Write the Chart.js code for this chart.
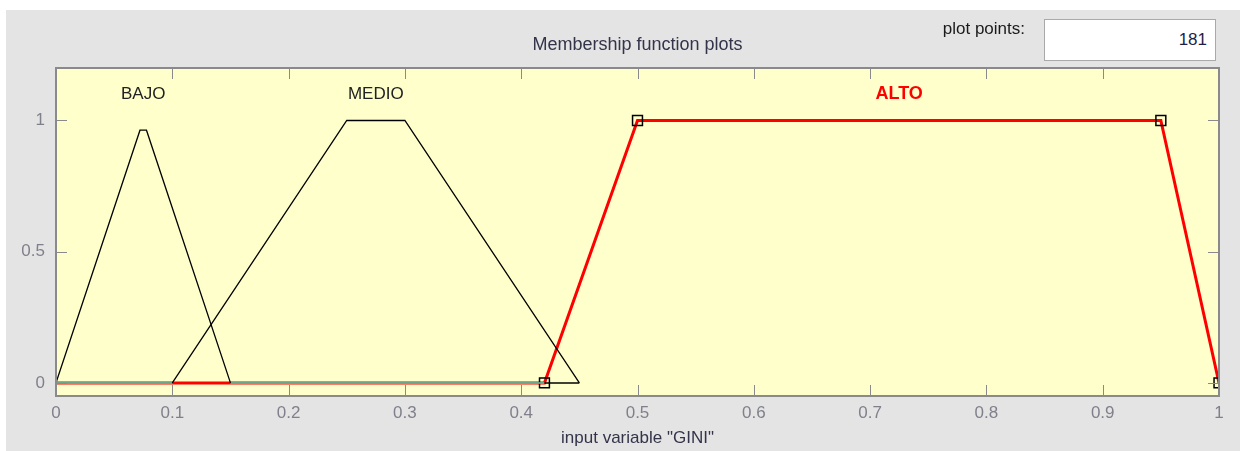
<!DOCTYPE html>
<html>
<head>
<meta charset="utf-8">
<script src="https://cdn.jsdelivr.net/npm/chart.js@4/dist/chart.umd.min.js"></script>
<style>
  html, body { margin: 0; padding: 0; background: #ffffff; }
  #panel { position: absolute; left: 6px; top: 10px; width: 1234px; height: 441px; background: #e4e4e4; }
  #myChart { position: absolute; left: 0; top: 0; }
  #ppLabel { position: absolute; right: 215px; top: 9px; font: 17px "Liberation Sans", Arial, sans-serif; color: #1a1a1a; }
  #ppBox { position: absolute; left: 1038px; top: 9px; width: 162px; height: 40px; background: #fff;
           border: 1px solid #a9a9a9; font: 17px "Liberation Sans", Arial, sans-serif; color: #1e1e4a;
           text-align: right; line-height: 40px; padding-right: 8px; }
</style>
</head>
<body>
<div id="panel">
  <canvas id="myChart" width="1234" height="441"></canvas>
  <div id="ppLabel">plot points:</div>
  <div id="ppBox">181</div>
</div>
<script>
// membership functions of input variable "GINI"
var mfNames = ['BAJO', 'MEDIO', 'ALTO'];
var bajoParams = [0, 0.075, 0.15];
var medioParams = [0.1, 0.25, 0.3, 0.45];
var altoParams = [0.42, 0.5, 0.95, 1];

// plotted curves (181 plot points, so BAJO's peak is clipped)
var bajoX = [0, 0.0722, 0.0778, 0.15];
var bajoY = [0, 0.963, 0.963, 0];
var medioX = [0.1, 0.25, 0.3, 0.45];
var medioY = [0, 1, 1, 0];
var altoX = [0, 0.42, 0.5, 0.95, 1];
var altoY = [0, 0, 1, 1, 0];
// zero stretch where the other curves overlap on the axis
var zeroX = [0, 0.1, 0.15, 0.42, 0.45];
var zeroY = [0, 0, 0, 0, 0];

var xTicks = [0, 0.1, 0.2, 0.3, 0.4, 0.5, 0.6, 0.7, 0.8, 0.9, 1];
var yTicks = [0, 0.5, 1];

function pts(xs, ys) {
    return xs.map(function (x, i) { return { x: x, y: ys[i] }; });
}

// name sits over the top of each mf
function mfCenter(p) {
    return p.length === 3 ? p[1] : (p[1] + p[2]) / 2;
}

var font = '"Liberation Sans", Arial, sans-serif';
var zeroColors = ['#3fdcb8', 'rgba(0,0,0,0)', '#3fdcb8', '#000000'];

// yellow plot background, box, inward ticks, title and mf names
var axesBox = {
    id: 'axesBox',
    beforeDatasetsDraw: function (chart) {
        var c = chart.ctx, a = chart.chartArea;
        c.save();
        c.fillStyle = '#ffffcb';
        c.fillRect(a.left, a.top, a.right - a.left, a.bottom - a.top);
        c.restore();
    },
    afterDatasetsDraw: function (chart) {
        var c = chart.ctx, a = chart.chartArea;
        var xs = chart.scales.x, ys = chart.scales.y;
        c.save();
        c.strokeStyle = '#8a8a8a';
        c.lineWidth = 1;
        c.beginPath();
        xTicks.forEach(function (v) {
            var px = Math.round(xs.getPixelForValue(v)) + 0.5;
            c.moveTo(px, a.bottom); c.lineTo(px, a.bottom - 11);
            c.moveTo(px, a.top); c.lineTo(px, a.top + 11);
        });
        yTicks.forEach(function (v) {
            var py = Math.round(ys.getPixelForValue(v)) + 0.5;
            c.moveTo(a.left, py); c.lineTo(a.left + 11, py);
            c.moveTo(a.right, py); c.lineTo(a.right - 11, py);
        });
        c.stroke();
        c.lineWidth = 2;
        c.strokeRect(a.left, a.top, a.right - a.left, a.bottom - a.top);

        c.textAlign = 'center';
        c.textBaseline = 'middle';
        c.fillStyle = '#33334a';
        c.font = '18px ' + font;
        c.fillText('Membership function plots', (a.left + a.right) / 2, 35);

        [bajoParams, medioParams, altoParams].forEach(function (p, i) {
            var cx = xs.getPixelForValue(mfCenter(p));
            var cy = ys.getPixelForValue(1.1);
            c.fillStyle = i === 2 ? '#ff0000' : '#222222';
            c.font = (i === 2 ? 'bold 18px ' : '17px ') + font;
            c.fillText(mfNames[i], cx, cy);
        });
        c.restore();
    }
};

var ctx = document.getElementById('myChart').getContext('2d');
var chart = new Chart(ctx, {
    type: 'line',
    data: {
        datasets: [{
            label: 'ALTO',
            data: pts(altoX, altoY),
            borderColor: '#ff0000',
            borderWidth: 3,
            pointStyle: 'rect',
            pointRadius: [0, 7, 7, 7, 7],
            pointBorderColor: '#000000',
            pointBorderWidth: 1.5,
            pointBackgroundColor: 'rgba(0,0,0,0)',
            order: 3
        }, {
            label: 'zero',
            data: pts(zeroX, zeroY),
            borderWidth: 1.5,
            pointRadius: 0,
            segment: { borderColor: function (s) { return zeroColors[s.p0DataIndex]; } },
            order: 2
        }, {
            label: 'BAJO',
            data: pts(bajoX, bajoY),
            borderColor: '#000000',
            borderWidth: 1.3,
            pointRadius: 0,
            order: 1
        }, {
            label: 'MEDIO',
            data: pts(medioX, medioY),
            borderColor: '#000000',
            borderWidth: 1.3,
            pointRadius: 0,
            order: 1
        }]
    },
    options: {
        responsive: false,
        animation: false,
        layout: { padding: { left: 0, right: 21, top: 58, bottom: 0 } },
        plugins: { legend: { display: false }, tooltip: { enabled: false } },
        scales: {
            x: {
                type: 'linear',
                min: 0,
                max: 1,
                afterBuildTicks: function (s) { s.ticks = xTicks.map(function (v) { return { value: v }; }); },
                afterFit: function (s) { s.height = 55; },
                grid: { display: false, drawTicks: false },
                border: { display: false },
                ticks: {
                    padding: 7,
                    color: '#80808c',
                    font: { family: font, size: 17 },
                    callback: function (v) { return String(v); }
                },
                title: {
                    display: true,
                    text: 'input variable "GINI"',
                    color: '#33334a',
                    font: { family: font, size: 17 },
                    padding: { top: 0, bottom: 2 }
                }
            },
            y: {
                min: -0.05,
                max: 1.2,
                afterBuildTicks: function (s) { s.ticks = yTicks.map(function (v) { return { value: v }; }); },
                afterFit: function (s) { s.width = 50; },
                grid: { display: false, drawTicks: false },
                border: { display: false },
                ticks: {
                    padding: 11,
                    color: '#80808c',
                    font: { family: font, size: 17 },
                    callback: function (v) { return String(v); }
                }
            }
        }
    },
    plugins: [axesBox]
});
</script>
</body>
</html>
